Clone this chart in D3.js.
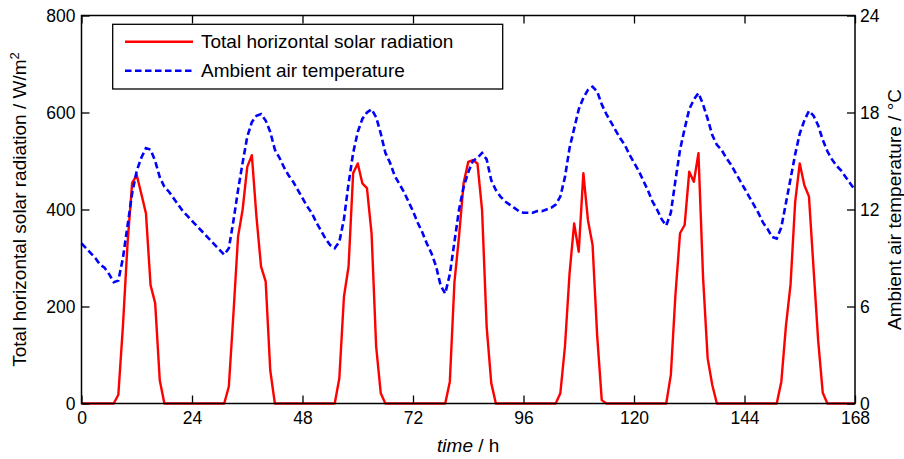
<!DOCTYPE html>
<html>
<head>
<meta charset="utf-8">
<script src="https://cdn.jsdelivr.net/npm/d3@7"></script>
<style>
  html, body { margin: 0; padding: 0; background: #fff; }
  svg { display: block; font-family: "Liberation Sans", Arial, sans-serif; }
</style>
</head>
<body>
<svg id="chart" width="904" height="459"></svg>
<script>
// ---- Data (hourly, 0..168 h) ----
const hours = d3.range(0, 169);

const solar = [
  0,0,0,0,0,0,0,0,18,160,
  330,455,471,432,392,244,207,48,0,0,
  0,0,0,0,0,0,0,0,0,0,
  0,0,35,185,344,400,488,512,385,282,
  252,68,0,0,0,0,0,0,0,0,
  0,0,0,0,0,0,52,220,282,475,
  495,454,444,351,117,21,0,0,0,0,
  0,0,0,0,0,0,0,0,0,0,
  45,250,345,455,498,502,495,399,158,42,
  0,0,0,0,0,0,0,0,0,0,
  0,0,0,0,21,117,268,371,313,475,
  378,327,140,7,0,0,0,0,0,0,
  0,0,0,0,0,0,0,0,59,224,
  351,368,478,457,516,260,93,38,0,0,
  0,0,0,0,0,0,0,0,0,0,
  0,0,45,160,245,415,495,450,427,278,
  130,22,0,0,0,0,0,0,0
];

const temperature = [
  9.9,9.6,9.3,9.0,8.6,8.4,8.0,7.5,7.6,9.0,
  11.0,13.0,14.4,15.2,15.8,15.7,15.0,14.0,13.4,13.1,
  12.7,12.3,11.9,11.6,11.3,11.0,10.7,10.4,10.1,9.8,
  9.5,9.2,9.6,11.3,13.2,14.9,16.5,17.4,17.8,17.9,
  17.5,16.8,15.7,15.2,14.6,14.1,13.7,13.2,12.7,12.2,
  11.8,11.2,10.7,10.2,9.8,9.6,10.0,11.4,13.6,15.5,
  16.8,17.6,18.0,18.2,17.7,16.7,15.5,14.9,14.1,13.6,
  13.1,12.5,11.9,11.2,10.6,9.9,9.3,8.5,7.3,6.8,
  8.0,10.0,12.0,13.4,14.3,15.0,15.2,15.5,15.1,13.8,
  13.2,12.8,12.5,12.3,12.1,11.9,11.8,11.8,11.8,11.9,
  11.9,12.0,12.1,12.3,12.8,14.0,15.8,17.0,18.2,18.9,
  19.4,19.6,19.3,18.5,17.9,17.4,16.9,16.4,16.0,15.4,
  14.9,14.4,13.8,13.2,12.5,12.0,11.4,11.0,11.8,13.8,
  15.7,17.0,18.2,18.8,19.2,18.5,17.6,16.6,16.0,15.7,
  15.2,14.8,14.3,13.8,13.3,12.8,12.3,11.8,11.2,10.8,
  10.3,10.2,10.9,12.4,13.9,15.4,16.7,17.5,18.1,17.8,
  17.2,16.3,15.6,15.1,14.7,14.4,14.0,13.6,13.2
];

const xTicks = [0, 24, 48, 72, 96, 120, 144, 168];
const yLeftTicks = [0, 200, 400, 600, 800];
const yRightTicks = [0, 6, 12, 18, 24];

const seriesNames = ["Total horizontal solar radiation", "Ambient air temperature"];
const seriesColors = ["#ff0000", "#0000ff"];

// ---- Layout ----
const L = 81.5, R = 855, T = 15.5, B = 403.5;
const svg = d3.select("#chart");

const x = d3.scaleLinear().domain([0, 168]).range([L, R]);
const yL = d3.scaleLinear().domain([0, 800]).range([B, T]);
const yR = d3.scaleLinear().domain([0, 24]).range([B, T]);

svg.append("rect").attr("x", L).attr("y", T).attr("width", R - L).attr("height", B - T)
  .attr("fill", "#fff");

// ---- Lines ----
const lineSolar = d3.line().x((d, i) => x(hours[i])).y(d => yL(d));
const lineTemp = d3.line().x((d, i) => x(hours[i])).y(d => yR(d));

svg.append("path").datum(solar)
  .attr("d", lineSolar).attr("fill", "none")
  .attr("stroke", seriesColors[0]).attr("stroke-width", 2.4)
  .attr("stroke-linejoin", "round");

svg.append("path").datum(temperature)
  .attr("d", lineTemp).attr("fill", "none")
  .attr("stroke", seriesColors[1]).attr("stroke-width", 2.6)
  .attr("stroke-dasharray", "6.5,3.5");

// ---- Axes ----
const tickFont = "17.5px";
function styleAxis(g) {
  g.select(".domain").remove();
  g.selectAll(".tick line").attr("stroke", "#000").attr("stroke-width", 1.3);
  g.selectAll(".tick text").attr("fill", "#000").style("font-size", tickFont)
    .style("font-family", '"Liberation Sans", Arial, sans-serif');
}

svg.append("g").attr("transform", `translate(0,${B})`)
  .call(d3.axisBottom(x).tickValues(xTicks).tickSize(-8).tickSizeOuter(0).tickPadding(8.5))
  .call(styleAxis);

svg.append("g").attr("transform", `translate(0,${T})`)
  .call(d3.axisTop(x).tickValues(xTicks).tickSize(-8).tickSizeOuter(0).tickFormat(""))
  .call(styleAxis);

svg.append("g").attr("transform", `translate(${L},0)`)
  .call(d3.axisLeft(yL).tickValues(yLeftTicks).tickSize(-8).tickSizeOuter(0).tickPadding(6))
  .call(styleAxis);

svg.append("g").attr("transform", `translate(${R},0)`)
  .call(d3.axisRight(yR).tickValues(yRightTicks).tickSize(-8).tickSizeOuter(0).tickPadding(5))
  .call(styleAxis);

svg.append("rect").attr("x", L).attr("y", T).attr("width", R - L).attr("height", B - T)
  .attr("fill", "none").attr("stroke", "#000").attr("stroke-width", 1.5);

// ---- Axis titles ----
const labelSize = "19px";
const xt = svg.append("text").attr("x", (L + R) / 2).attr("y", 452)
  .attr("text-anchor", "middle").style("font-size", labelSize).attr("fill", "#000");
xt.append("tspan").style("font-style", "italic").text("time");
xt.append("tspan").text(" / h");

const ylt = svg.append("text")
  .attr("transform", `translate(26,${(T + B) / 2}) rotate(-90)`)
  .attr("text-anchor", "middle").style("font-size", labelSize).attr("fill", "#000");
ylt.append("tspan").text("Total horizontal solar radiation / W/m");
ylt.append("tspan").attr("dy", -7).style("font-size", "13px").text("2");

svg.append("text")
  .attr("transform", `translate(901,${(T + B) / 2}) rotate(-90)`)
  .attr("text-anchor", "middle").style("font-size", labelSize).attr("fill", "#000")
  .text("Ambient air temperature / \u00B0C");

// ---- Legend ----
const lg = svg.append("g");
lg.append("rect").attr("x", 112.7).attr("y", 24.3).attr("width", 390).attr("height", 64.7)
  .attr("fill", "#fff").attr("stroke", "#000").attr("stroke-width", 1.3);
const legendRows = [41.7, 70.7];
seriesNames.forEach((name, i) => {
  lg.append("line").attr("x1", 125).attr("x2", 193)
    .attr("y1", legendRows[i]).attr("y2", legendRows[i])
    .attr("stroke", seriesColors[i]).attr("stroke-width", i === 0 ? 2.4 : 2.6)
    .attr("stroke-dasharray", i === 0 ? null : "6.5,3.5");
  lg.append("text").attr("x", 201).attr("y", legendRows[i]).attr("dy", "0.35em")
    .style("font-size", labelSize).attr("fill", "#000").text(name);
});
</script>
</body>
</html>
